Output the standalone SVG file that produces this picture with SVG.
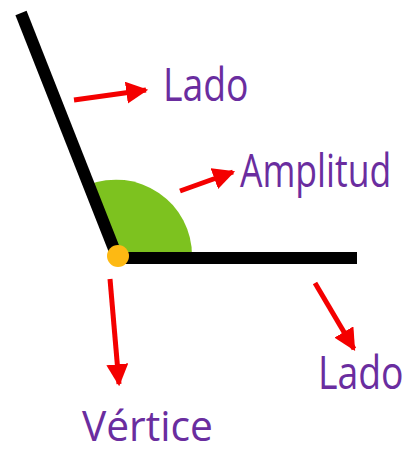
<svg xmlns="http://www.w3.org/2000/svg" width="409" height="453" viewBox="0 0 409 453">
<defs>
<marker id="ah" viewBox="0 0 10 10" refX="9" refY="5" markerWidth="4.4" markerHeight="4.4" orient="auto" markerUnits="strokeWidth">
<path d="M0,0 L10,5 L0,10 Z" fill="#f40000"/>
</marker>
<style>
.lbl{font-family:"Open Sans","Liberation Sans",sans-serif;font-size:46px;fill:#6a2d9f;}
.arr{stroke:#f40000;stroke-width:5;fill:none;marker-end:url(#ah);}
.side{stroke:#000;stroke-width:12;stroke-linecap:butt;}
</style>
</defs>
<rect width="409" height="453" fill="#fff"/>
<g id="angle">
<path d="M116,256 L192,256 A76,76 0 0 0 88,185 Z" fill="#7dc21f"/>
<line class="side" x1="21" y1="13" x2="116" y2="254"/>
<line class="side" x1="116" y1="258" x2="357" y2="258"/>
</g>
<g id="vertex"><circle cx="118" cy="256" r="11" fill="#fdb913"/></g>
<g id="connectors">
<line class="arr" x1="74" y1="100" x2="146" y2="90"/>
<line class="arr" x1="180" y1="191" x2="233" y2="172"/>
<line class="arr" x1="110" y1="279" x2="119" y2="384"/>
<line class="arr" x1="315" y1="283" x2="354" y2="349"/>
</g>
<g id="lado1"><text class="lbl" transform="translate(163,101) scale(0.8,1)" x="0" y="0" textLength="107" lengthAdjust="spacingAndGlyphs">Lado</text></g>
<g id="amplitud"><text class="lbl" transform="translate(240,187) scale(0.8,1)" x="0" y="0" textLength="189" lengthAdjust="spacingAndGlyphs">Amplitud</text></g>
<g id="lado2"><text class="lbl" transform="translate(318,389) scale(0.8,1)" x="0" y="0" textLength="107" lengthAdjust="spacingAndGlyphs">Lado</text></g>
<g id="vertice"><text class="lbl" style="font-size:42px" transform="translate(82,441) scale(0.85,1)" x="0" y="0" textLength="154" lengthAdjust="spacingAndGlyphs">Vértice</text></g>
</svg>
